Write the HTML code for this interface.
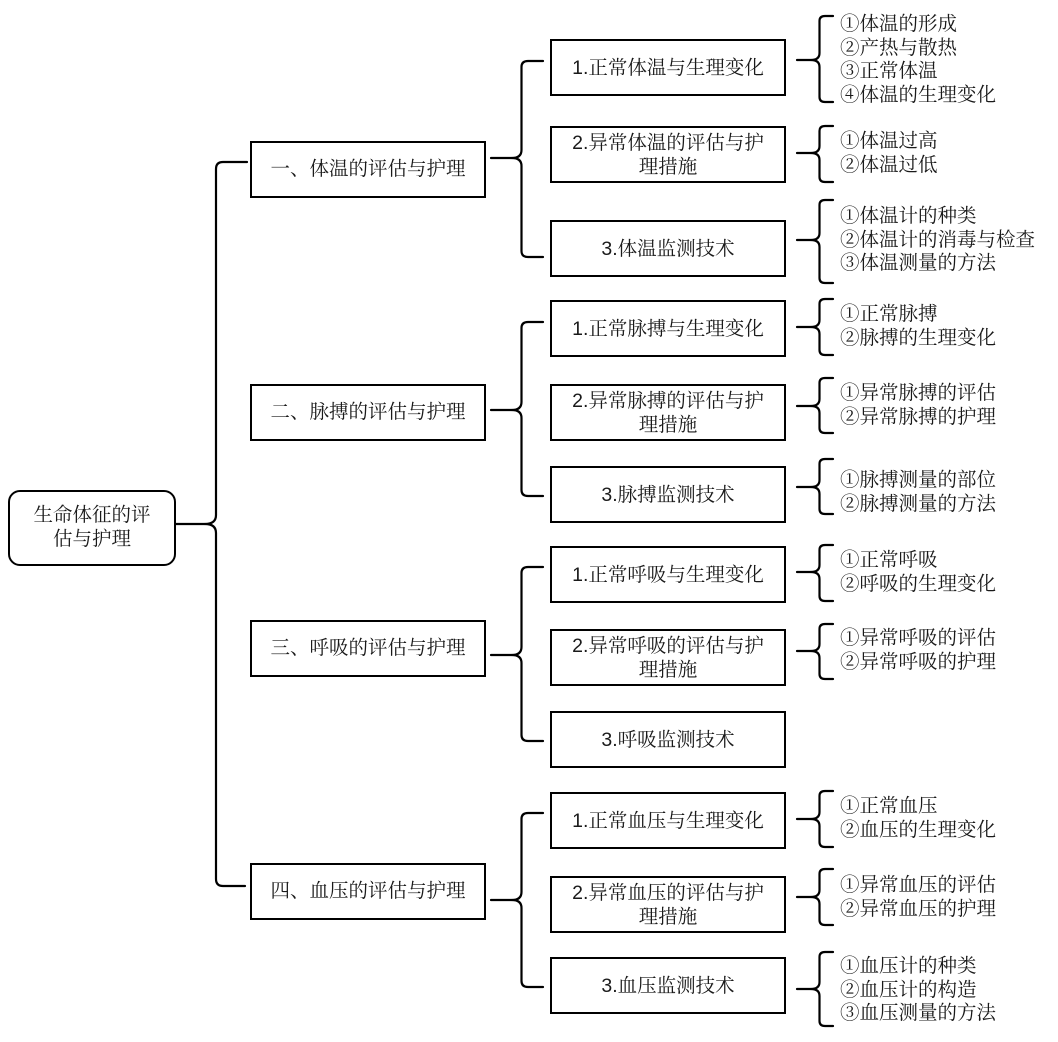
<!DOCTYPE html>
<html>
<head>
<meta charset="utf-8">
<style>
  html,body{margin:0;padding:0;background:#fff;}
  body{width:1058px;height:1042px;position:relative;overflow:hidden;}
  .box{position:absolute;box-sizing:border-box;border:2px solid #000;background:#fff;
       display:flex;align-items:center;justify-content:center;text-align:center;
       color:#1a1a1a;font-size:19.5px;line-height:24px;}
  .l0{font-family:"Liberation Serif","Noto Serif CJK SC",serif;border-radius:12px;}
  .l1{font-family:"Liberation Serif","Noto Serif CJK SC",serif;left:250px;width:236px;height:57px;}
  .l2{font-family:"Liberation Sans","Noto Serif CJK SC",serif;left:550px;width:236px;height:57px;}
  .it{position:absolute;left:840px;font-family:"Liberation Serif","Noto Serif CJK SC",serif;
      font-size:19.5px;line-height:23.6px;color:#1a1a1a;white-space:nowrap;}
  svg{position:absolute;left:0;top:0;}
</style>
</head>
<body>
<svg width="1058" height="1042" viewBox="0 0 1058 1042">
  <g fill="none" stroke="#000" stroke-width="2.2" stroke-linecap="round" stroke-linejoin="round">
    <!-- main brace -->
    <path d="M247,162 L223,162 Q216,162 216,169 L216,515 Q216,524 205,524 Q216,524 216,533 L216,879 Q216,886 223,886 L245,886"/>
    <path d="M176,524 L205,524"/>
    <!-- group braces -->
    <path d="M543,61 L528,61 Q521.5,61 521.5,67 L521.5,150 Q521.5,158 512,158 Q521.5,158 521.5,166 L521.5,251 Q521.5,257 528,257 L543,257"/>
    <path d="M491,158 L512,158"/>
    <path d="M543,322 L528,322 Q521.5,322 521.5,328 L521.5,402 Q521.5,410 512,410 Q521.5,410 521.5,418 L521.5,490 Q521.5,496 528,496 L543,496"/>
    <path d="M491,410 L512,410"/>
    <path d="M543,567 L528,567 Q521.5,567 521.5,573 L521.5,647 Q521.5,655 512,655 Q521.5,655 521.5,663 L521.5,735 Q521.5,741 528,741 L543,741"/>
    <path d="M491,655 L512,655"/>
    <path d="M543,813 L528,813 Q521.5,813 521.5,819 L521.5,892 Q521.5,900 512,900 Q521.5,900 521.5,908 L521.5,981 Q521.5,987 528,987 L543,987"/>
    <path d="M491,900 L512,900"/>
    <!-- item braces -->
    <path d="M833,16 L825,16 Q819.5,16 819.5,21 L819.5,53 Q819.5,60 811,60 Q819.5,60 819.5,67 L819.5,97 Q819.5,102 825,102 L833,102"/>
    <path d="M797,60 L811,60"/>
    <path d="M833,126 L825,126 Q819.5,126 819.5,131 L819.5,146 Q819.5,153 811,153 Q819.5,153 819.5,160 L819.5,177 Q819.5,182 825,182 L833,182"/>
    <path d="M797,153 L811,153"/>
    <path d="M833,200 L825,200 Q819.5,200 819.5,205 L819.5,233 Q819.5,240 811,240 Q819.5,240 819.5,247 L819.5,278 Q819.5,283 825,283 L833,283"/>
    <path d="M797,240 L811,240"/>
    <path d="M833,299 L825,299 Q819.5,299 819.5,304 L819.5,320 Q819.5,327 811,327 Q819.5,327 819.5,334 L819.5,350 Q819.5,355 825,355 L833,355"/>
    <path d="M797,327 L811,327"/>
    <path d="M833,378 L825,378 Q819.5,378 819.5,383 L819.5,399 Q819.5,406 811,406 Q819.5,406 819.5,413 L819.5,428 Q819.5,433 825,433 L833,433"/>
    <path d="M797,406 L811,406"/>
    <path d="M833,459 L825,459 Q819.5,459 819.5,464 L819.5,480 Q819.5,487 811,487 Q819.5,487 819.5,494 L819.5,509 Q819.5,514 825,514 L833,514"/>
    <path d="M797,487 L811,487"/>
    <path d="M833,545 L825,545 Q819.5,545 819.5,550 L819.5,565 Q819.5,572 811,572 Q819.5,572 819.5,579 L819.5,596 Q819.5,601 825,601 L833,601"/>
    <path d="M797,572 L811,572"/>
    <path d="M833,624 L825,624 Q819.5,624 819.5,629 L819.5,644 Q819.5,651 811,651 Q819.5,651 819.5,658 L819.5,674 Q819.5,679 825,679 L833,679"/>
    <path d="M797,651 L811,651"/>
    <path d="M833,791 L825,791 Q819.5,791 819.5,796 L819.5,812 Q819.5,819 811,819 Q819.5,819 819.5,826 L819.5,842 Q819.5,847 825,847 L833,847"/>
    <path d="M797,819 L811,819"/>
    <path d="M833,869 L825,869 Q819.5,869 819.5,874 L819.5,890 Q819.5,897 811,897 Q819.5,897 819.5,904 L819.5,920 Q819.5,925 825,925 L833,925"/>
    <path d="M797,897 L811,897"/>
    <path d="M833,952 L825,952 Q819.5,952 819.5,957 L819.5,982 Q819.5,989 811,989 Q819.5,989 819.5,996 L819.5,1021 Q819.5,1026 825,1026 L833,1026"/>
    <path d="M797,989 L811,989"/>
  </g>
</svg>

<!-- root -->
<div class="box l0" style="left:8px;top:490px;width:168px;height:76px;">生命体征的评<br>估与护理</div>

<!-- level 1 -->
<div class="box l1" style="top:141px;">一、体温的评估与护理</div>
<div class="box l1" style="top:384px;">二、脉搏的评估与护理</div>
<div class="box l1" style="top:620px;">三、呼吸的评估与护理</div>
<div class="box l1" style="top:863px;">四、血压的评估与护理</div>

<!-- level 2 -->
<div class="box l2" style="top:39px;">1.正常体温与生理变化</div>
<div class="box l2" style="top:126px;">2.异常体温的评估与护<br>理措施</div>
<div class="box l2" style="top:220px;">3.体温监测技术</div>

<div class="box l2" style="top:300px;">1.正常脉搏与生理变化</div>
<div class="box l2" style="top:384px;">2.异常脉搏的评估与护<br>理措施</div>
<div class="box l2" style="top:466px;">3.脉搏监测技术</div>

<div class="box l2" style="top:546px;">1.正常呼吸与生理变化</div>
<div class="box l2" style="top:629px;">2.异常呼吸的评估与护<br>理措施</div>
<div class="box l2" style="top:711px;">3.呼吸监测技术</div>

<div class="box l2" style="top:792px;">1.正常血压与生理变化</div>
<div class="box l2" style="top:876px;">2.异常血压的评估与护<br>理措施</div>
<div class="box l2" style="top:957px;">3.血压监测技术</div>

<!-- items -->
<div class="it" style="top:13px;">①体温的形成<br>②产热与散热<br>③正常体温<br>④体温的生理变化</div>
<div class="it" style="top:130px;">①体温过高<br>②体温过低</div>
<div class="it" style="top:205px;">①体温计的种类<br>②体温计的消毒与检查<br>③体温测量的方法</div>

<div class="it" style="top:303px;">①正常脉搏<br>②脉搏的生理变化</div>
<div class="it" style="top:382px;">①异常脉搏的评估<br>②异常脉搏的护理</div>
<div class="it" style="top:469px;">①脉搏测量的部位<br>②脉搏测量的方法</div>

<div class="it" style="top:549px;">①正常呼吸<br>②呼吸的生理变化</div>
<div class="it" style="top:627px;">①异常呼吸的评估<br>②异常呼吸的护理</div>

<div class="it" style="top:795px;">①正常血压<br>②血压的生理变化</div>
<div class="it" style="top:874px;">①异常血压的评估<br>②异常血压的护理</div>
<div class="it" style="top:955px;">①血压计的种类<br>②血压计的构造<br>③血压测量的方法</div>
</body>
</html>
